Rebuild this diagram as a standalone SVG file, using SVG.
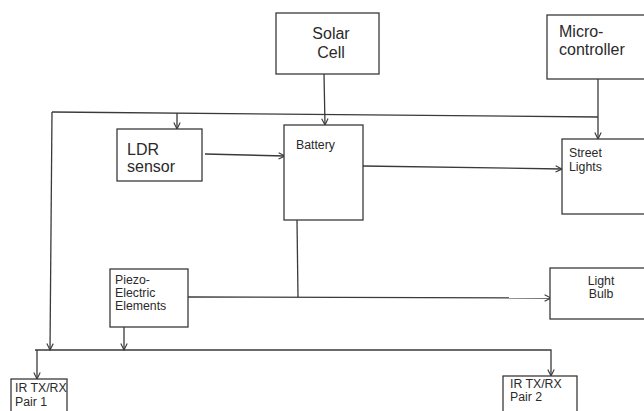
<svg xmlns="http://www.w3.org/2000/svg" width="644" height="411" viewBox="0 0 644 411">
<defs>
<style>
.box{fill:#fff;stroke:#3a3a3a;stroke-width:1.3}
.ln{fill:none;stroke:#3a3a3a;stroke-width:1.3}
.t{font-family:"Liberation Sans",Arial,sans-serif;fill:#2a2a2a}
.big{font-size:16px}
.sm{font-size:12.3px}
</style>
<marker id="ar" viewBox="0 0 10 10" refX="9" refY="5" markerWidth="8" markerHeight="8" orient="auto" markerUnits="userSpaceOnUse">
<path d="M1,1 L9,5 L1,9" fill="none" stroke="#3a3a3a" stroke-width="1.4"/>
</marker>
</defs>
<rect width="644" height="411" fill="#fff"/>
<g id="connectors">
<path class="ln" d="M52,112 L598,117"/>
<path class="ln" d="M324,74 L325,125" marker-end="url(#ar)"/>
<path class="ln" d="M598,79 L598,139" marker-end="url(#ar)"/>
<path class="ln" d="M177,113 L177,129" marker-end="url(#ar)"/>
<path class="ln" d="M52,112 L50,350" marker-end="url(#ar)"/>
<path class="ln" d="M205,154 L285,156" marker-end="url(#ar)"/>
<path class="ln" d="M363,166 L562,169" marker-end="url(#ar)"/>
<path class="ln" d="M297,220 L298,297"/>
<path class="ln" d="M188,297 L551,298" marker-end="url(#ar)"/>
<path class="ln" d="M124,327 L124,350" marker-end="url(#ar)"/>
<path class="ln" d="M35,350 L551,350 L551,376" marker-end="url(#ar)"/>
<path class="ln" d="M37,350 L37,379" marker-end="url(#ar)"/>
</g>
<g id="solar">
<rect class="box" x="276" y="13" width="103" height="61"/>
<text class="t big" x="331" y="39" text-anchor="middle">Solar</text>
<text class="t big" x="331" y="58" text-anchor="middle">Cell</text>
</g>
<g id="micro">
<rect class="box" x="547" y="15" width="100" height="64"/>
<text class="t big" x="559" y="37">Micro-</text>
<text class="t big" x="559" y="55">controller</text>
</g>
<g id="ldr">
<rect class="box" x="117" y="129" width="85" height="52"/>
<text class="t big" x="127" y="155">LDR</text>
<text class="t big" x="127" y="172">sensor</text>
</g>
<g id="battery">
<rect class="box" x="284" y="125" width="79" height="95"/>
<text class="t sm" x="296" y="149">Battery</text>
</g>
<g id="street">
<rect class="box" x="562" y="139" width="84" height="75"/>
<text class="t sm" x="569" y="157">Street</text>
<text class="t sm" x="569" y="171">Lights</text>
</g>
<g id="piezo">
<rect class="box" x="110" y="269" width="78" height="58"/>
<text class="t sm" x="115" y="284">Piezo-</text>
<text class="t sm" x="115" y="297">Electric</text>
<text class="t sm" x="115" y="310">Elements</text>
</g>
<g id="bulb">
<rect class="box" x="550" y="268" width="96" height="51"/>
<text class="t sm" x="601" y="285" text-anchor="middle">Light</text>
<text class="t sm" x="601" y="298" text-anchor="middle">Bulb</text>
</g>
<g id="ir1">
<rect class="box" x="11" y="379" width="56" height="40"/>
<text class="t sm" x="15" y="392">IR TX/RX</text>
<text class="t sm" x="15" y="406">Pair 1</text>
</g>
<g id="ir2">
<rect class="box" x="503" y="376" width="74" height="40"/>
<text class="t sm" x="510" y="388">IR TX/RX</text>
<text class="t sm" x="510" y="401">Pair 2</text>
</g>
</svg>
